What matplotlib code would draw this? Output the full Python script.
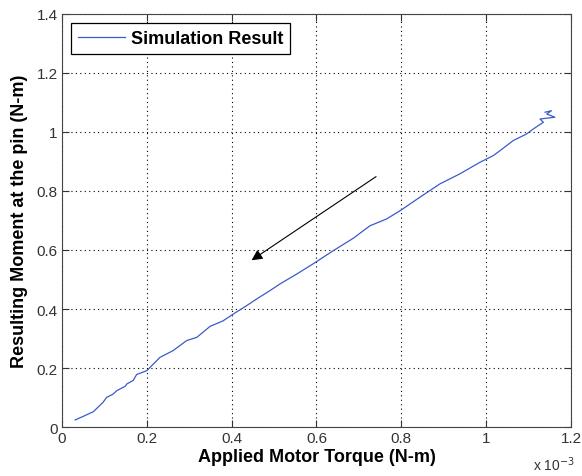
import numpy as np
import matplotlib.pyplot as plt
from matplotlib.ticker import FormatStrFormatter, MultipleLocator

plt.rcParams['font.family'] = ['Liberation Sans', 'DejaVu Sans']

# applied motor torque (x 1e-3 N-m) and resulting moment (N-m)
torque = [0.031, 0.050, 0.074, 0.097, 0.105, 0.121, 0.129, 0.149, 0.153, 0.168,
          0.176, 0.200, 0.231, 0.262, 0.294, 0.318, 0.349, 0.380, 0.404, 0.435,
          0.459, 0.490, 0.514, 0.553, 0.592, 0.640, 0.687, 0.726, 0.765, 0.797,
          0.844, 0.891, 0.938, 0.985, 1.017, 1.033, 1.064, 1.095, 1.111, 1.135,
          1.127, 1.162, 1.143, 1.154, 1.139]
moment = [0.024, 0.036, 0.052, 0.084, 0.100, 0.112, 0.123, 0.138, 0.146, 0.158,
          0.178, 0.191, 0.236, 0.259, 0.293, 0.304, 0.341, 0.360, 0.383, 0.411,
          0.434, 0.462, 0.485, 0.518, 0.553, 0.598, 0.640, 0.682, 0.705, 0.733,
          0.779, 0.824, 0.858, 0.897, 0.920, 0.937, 0.971, 0.993, 1.010, 1.033,
          1.044, 1.050, 1.061, 1.072, 1.067]

arrow_tail = (0.746, 0.854)
arrow_head = (0.4415, 0.560)

fig = plt.figure(figsize=(5.82, 4.77), dpi=100)
ax = fig.add_axes([0.1065, 0.1027, 0.8745, 0.8659])

ax.plot(torque, moment, color='#3a5bc8', lw=0.9, label='Simulation Result')
ax.annotate('', xy=arrow_head, xytext=arrow_tail,
            arrowprops=dict(arrowstyle='-|>', color='k', lw=0.8, mutation_scale=16))

ax.set_xlim(0, 1.2)
ax.set_ylim(0, 1.4)
ax.xaxis.set_major_locator(MultipleLocator(0.2))
ax.yaxis.set_major_locator(MultipleLocator(0.2))
ax.xaxis.set_major_formatter(FormatStrFormatter('%g'))
ax.yaxis.set_major_formatter(FormatStrFormatter('%g'))
ax.tick_params(direction='in', top=True, right=True, labelsize=11,
               labelcolor='#333333', length=5, color='#333333', pad=3)
for s in ax.spines.values():
    s.set_color('#444444')
ax.grid(True, linestyle=(0, (1, 3)), color='k', lw=0.8)

ax.set_xlabel('Applied Motor Torque (N-m)', fontsize=13, fontweight='bold', labelpad=2)
ax.set_ylabel('Resulting Moment at the pin (N-m)', fontsize=13, fontweight='bold', labelpad=6)
fig.text(575 / 582, 3 / 477, r'x 10$^{-3}$', ha='right', va='bottom',
         fontsize=10, color='#333333')

leg = ax.legend(loc='upper left', fancybox=False, framealpha=1, edgecolor='k',
                prop={'weight': 'bold', 'size': 13}, handlelength=2.6,
                handletextpad=0.3, borderaxespad=0.5, borderpad=0.4)
leg.get_frame().set_linewidth(0.9)

fig.savefig('out.png', dpi=100)
